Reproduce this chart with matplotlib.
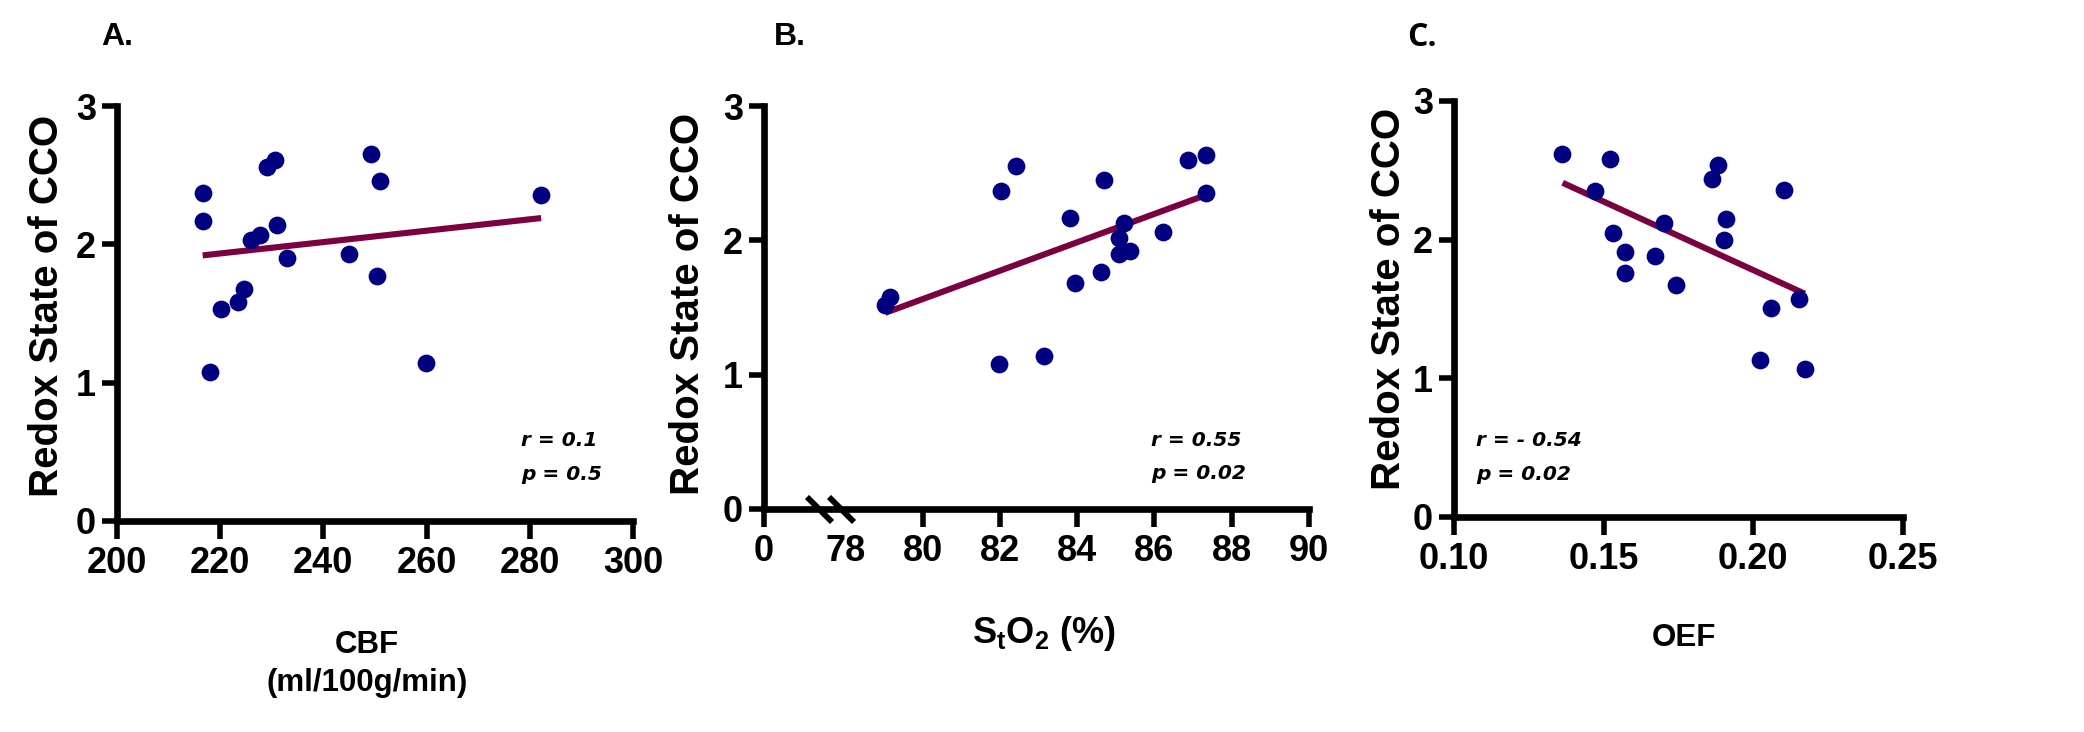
import numpy as np
import matplotlib
matplotlib.use("Agg")
import matplotlib.pyplot as plt
from matplotlib.path import Path
from matplotlib.transforms import blended_transform_factory

plt.rcParams["font.family"] = ["Liberation Sans", "DejaVu Sans"]
plt.rcParams["font.weight"] = "bold"
plt.rcParams["mathtext.fontset"] = "custom"
plt.rcParams["mathtext.rm"] = "Liberation Sans:bold"
plt.rcParams["mathtext.bf"] = "Liberation Sans:bold"
plt.rcParams["mathtext.it"] = "Liberation Sans:bold:italic"

# ---------------- data ----------------
# Panel A: CBF vs redox state
cbf = [216.6, 216.6, 218.1, 220.2, 223.5, 224.6, 226.0, 227.7, 229.0,
       230.6, 231.0, 233.0, 245.0, 249.2, 250.4, 251.0, 259.9, 282.2]
redox_a = [2.37, 2.17, 1.08, 1.53, 1.585, 1.68, 2.03, 2.07, 2.56,
           2.61, 2.14, 1.90, 1.93, 2.65, 1.77, 2.46, 1.14, 2.36]
fit_a_x = [216.6, 282.2]
fit_a_y = [1.92, 2.19]

# Panel B: StO2 vs redox state
sto2 = [79.03, 79.15, 81.97, 82.03, 82.41, 83.13, 83.81, 83.95, 84.61,
        84.69, 85.07, 85.07, 85.20, 85.36, 86.23, 86.87, 87.34, 87.34]
redox_b = [1.52, 1.58, 1.08, 2.365, 2.555, 1.14, 2.165, 1.68, 1.765,
           2.45, 1.895, 2.015, 2.13, 1.92, 2.06, 2.60, 2.635, 2.355]
fit_b_x = [79.03, 87.26]
fit_b_y = [1.46, 2.33]

# Panel C: OEF vs redox state
oef = [0.1361, 0.1471, 0.1522, 0.1532, 0.1571, 0.1571, 0.1672, 0.1702, 0.1741,
       0.1861, 0.1881, 0.1901, 0.1910, 0.2021, 0.2060, 0.2102, 0.2151, 0.2172]
redox_c = [2.62, 2.35, 2.58, 2.05, 1.91, 1.76, 1.88, 2.12, 1.67,
           2.44, 2.54, 2.00, 2.15, 1.135, 1.51, 2.36, 1.57, 1.07]
fit_c_x = [0.1363, 0.2172]
fit_c_y = [2.41, 1.61]

y_ticks = [0, 1, 2, 3]
xticks_a = [200, 220, 240, 260, 280, 300]
xticks_b = [0, 80, 82, 84, 86, 88, 90]
xtick_b_break = [78]
xticks_c = [0.10, 0.15, 0.20, 0.25]

ylabel = "Redox State of CCO"
xlabel_a = "CBF\n(ml/100g/min)"
xlabel_b = r"$\mathrm{S_tO_2}$ (%)"
xlabel_c = "OEF"
stats_a = ["r = 0.1", "p = 0.5"]
stats_b = ["r = 0.55", "p = 0.02"]
stats_c = ["r = - 0.54", "p = 0.02"]

# ---------------- style ----------------
W, H = 2084, 732
NAVY = "#000080"
WINE = "#7B0040"
TICK_FS = 26
SPINE_LW = 4.8

fig = plt.figure(figsize=(W / 100, H / 100), dpi=100)


def rect(l, r, t, b):
    return [l / W, 1 - b / H, (r - l) / W, (b - t) / H]


def style_axes(ax):
    for s in ("top", "right"):
        ax.spines[s].set_visible(False)
    for s in ("left", "bottom"):
        ax.spines[s].set_linewidth(SPINE_LW)
        ax.spines[s].set_capstyle("projecting")
    ax.tick_params(axis="x", which="major", width=4, length=13, pad=5,
                   labelsize=TICK_FS)
    ax.tick_params(axis="y", which="major", width=4, length=11, pad=4,
                   labelsize=TICK_FS)
    ax.set_ylim(0, 3)
    ax.set_yticks(y_ticks)
    ax.set_yticklabels([str(v) for v in y_ticks])
    for lab in ax.get_xticklabels() + ax.get_yticklabels():
        lab.set_fontweight("bold")


def draw(ax, x, y, fx, fy):
    ax.plot(fx, fy, color=WINE, lw=4.4, solid_capstyle="butt", zorder=2)
    ax.plot(x, y, ls="none", marker="o", ms=12.8, mfc=NAVY, mec="none",
            zorder=3, clip_on=False)


def stats(ax, lines, xf, y1, y2):
    for txt, yy in zip(lines, (y1, y2)):
        ax.text(xf, yy, txt, transform=ax.transAxes, ha="left", va="center",
                family="DejaVu Sans", fontsize=14.5, fontweight="bold",
                style="oblique")


# ---------------- Panel A ----------------
axA = fig.add_axes(rect(117, 633, 106, 521))
draw(axA, cbf, redox_a, fit_a_x, fit_a_y)
axA.set_xlim(200, 300)
axA.set_xticks(xticks_a)
axA.set_xticklabels([str(v) for v in xticks_a])
style_axes(axA)
axA.set_ylabel(ylabel, fontsize=29, fontweight="bold", va="center")
axA.yaxis.set_label_coords(-0.1357, 0.518)
axA.set_xlabel(xlabel_a, fontsize=22.5, fontweight="bold", va="center",
               linespacing=1.35)
axA.xaxis.set_label_coords(0.4845, -0.345)
stats(axA, stats_a, 0.783, 0.195, 0.113)

# ---------------- Panel B (broken axis) ----------------
BREAK = 78.0
ZERO_POS = 75.894
K = (BREAK - ZERO_POS) / BREAK


def fwd(v):
    v = np.asarray(v, dtype=float)
    return np.where(v >= BREAK, v, BREAK - (BREAK - v) * K)


def inv(v):
    v = np.asarray(v, dtype=float)
    return np.where(v >= BREAK, v, BREAK - (BREAK - v) / K)


axB = fig.add_axes(rect(764, 1309, 106, 509))
axB.set_xscale("function", functions=(fwd, inv))
draw(axB, sto2, redox_b, fit_b_x, fit_b_y)
axB.set_xlim(0, 90)
axB.set_xticks(xticks_b)
axB.set_xticklabels([str(v) for v in xticks_b])
axB.set_xticks(xtick_b_break, minor=True)
axB.set_xticklabels([str(v) for v in xtick_b_break], minor=True)
style_axes(axB)
axB.tick_params(axis="x", which="minor", length=0, width=0, pad=5 + 13,
                labelsize=TICK_FS)
for lab in axB.get_xticklabels(minor=True):
    lab.set_fontweight("bold")
axB.tick_params(axis="y", which="minor", length=0)
# break marks on the x axis
slash = Path([(-1, 1), (1, -1)])
tr = blended_transform_factory(axB.transData, axB.transAxes)
for pos in (77.32, 77.89):
    axB.plot([float(inv(pos))], [0], transform=tr, marker=slash, ms=18,
             mew=4.2, mec="black", ls="none", clip_on=False, zorder=5)
axB.set_ylabel(ylabel, fontsize=29, fontweight="bold", va="center")
axB.yaxis.set_label_coords(-0.1394, 0.509)
axB.set_xlabel(xlabel_b, fontsize=26, fontweight="bold", va="center")
axB.xaxis.set_label_coords(0.514, -0.308)
stats(axB, stats_b, 0.710, 0.171, 0.087)

# ---------------- Panel C ----------------
axC = fig.add_axes(rect(1454, 1903, 101, 517))
draw(axC, oef, redox_c, fit_c_x, fit_c_y)
axC.set_xlim(0.10, 0.25)
axC.set_xticks(xticks_c)
axC.set_xticklabels([f"{v:.2f}" for v in xticks_c])
style_axes(axC)
axC.set_ylabel(ylabel, fontsize=29, fontweight="bold", va="center")
axC.yaxis.set_label_coords(-0.1448, 0.524)
axC.set_xlabel(xlabel_c, fontsize=22.5, fontweight="bold", va="center")
axC.xaxis.set_label_coords(0.512, -0.291)
stats(axC, stats_c, 0.049, 0.185, 0.103)

# ---------------- panel letters ----------------
for txt, px, fam in (("A.", 117, "Liberation Sans"), ("B.", 790, "Liberation Sans"),
                     ("C.", 1422, "Open Sans")):
    fig.text(px / W, 1 - 37 / H, txt, ha="center", va="center",
             fontsize=23, fontweight="bold", family=fam)

fig.savefig("out.png", dpi=100)
